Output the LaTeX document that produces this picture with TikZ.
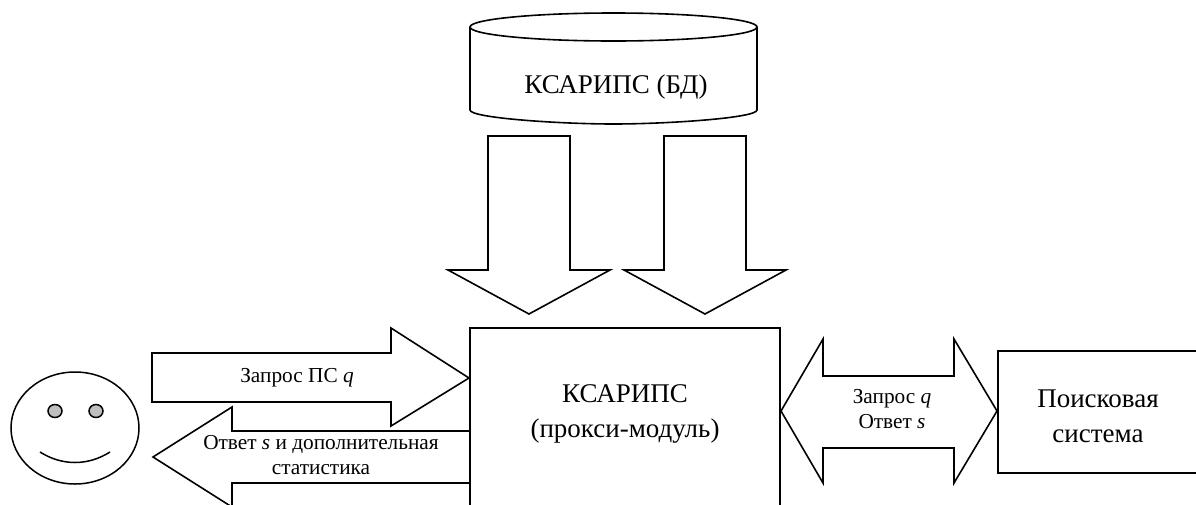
\documentclass[tikz,border=0pt]{standalone}
\usepackage{fontspec}
\setmainfont{Liberation Serif}
\newcommand{\bigtxt}{\fontsize{27}{35}\selectfont}
\newcommand{\smalltxt}{\fontsize{21.3}{25}\selectfont}
\tikzset{
  outline/.style={draw=black,line width=1.6pt,line join=miter,fill=white},
  faceline/.style={draw=black,line width=1.5pt},
  bigl/.style={align=center,inner sep=0pt,font=\bigtxt},
  smalll/.style={align=center,inner sep=0pt,font=\smalltxt}
}
\begin{document}
\begin{tikzpicture}[x=1pt,y=-1pt]
\useasboundingbox (0,0) rectangle (1196,504);
\clip (0,0) rectangle (1196,504);
\fill[white] (0,0) rectangle (1196,504);
% cylinder
\draw[outline] (470,27) -- (470,110) .. controls (470,118) and (560,124) .. (613.5,124)
  .. controls (667,124) and (757,118) .. (757,110) -- (757,27);
\draw[outline] (613.5,27) ellipse [x radius=143.5,y radius=14];
\node[bigl] (db) at (616,87) {КСАРИПС (БД)};
% down arrows
\draw[outline] (488,136) -- (570,136) -- (570,270) -- (610,270) -- (529,314) -- (448,270) -- (488,270) -- cycle;
\draw[outline] (664,136) -- (746,136) -- (746,270) -- (786,270) -- (705,314) -- (624,270) -- (664,270) -- cycle;
% user-to-proxy arrow
\draw[outline] (152,353) -- (391,353) -- (391,328) -- (469,378) -- (391,426) -- (391,402) -- (152,402) -- cycle;
\node[smalll] (req) at (297,378) {Запрос ПС \textit{q}};
% proxy-to-user arrow
\draw[outline] (470,431) -- (232,431) -- (232,407) -- (153,457) -- (232,507) -- (232,483) -- (470,483);
\node[smalll] (ans) at (321,455.5) {Ответ \textit{s} и дополнительная\\статистика};
% main box
\draw[outline,fill=none] (470,328) rectangle (780,520);
\node[bigl] (proxy) at (625,413.5) {КСАРИПС\\(прокси-модуль)};
% search system box
\draw[outline] (998,351) rectangle (1210,473);
\node[bigl] (search) at (1098,416.5) {Поисковая\\система};
% double arrow
\draw[outline] (781,411) -- (823,339) -- (823,376) -- (954,376) -- (954,339) -- (997,411) -- (954,483) -- (954,448) -- (823,448) -- (823,483) -- cycle;
\node[smalll] (qs) at (892,409) {Запрос \textit{q}\\Ответ \textit{s}};
% face
\draw[faceline,fill=white] (75,428) ellipse [x radius=64,y radius=56];
\draw[faceline,fill=black!25] (55,411) ellipse [x radius=7,y radius=6.5];
\draw[faceline,fill=black!25] (96,411) ellipse [x radius=7,y radius=6.5];
\draw[faceline] (40,452) .. controls (62,466) and (88,466) .. (110,452);
\end{tikzpicture}
\end{document}
